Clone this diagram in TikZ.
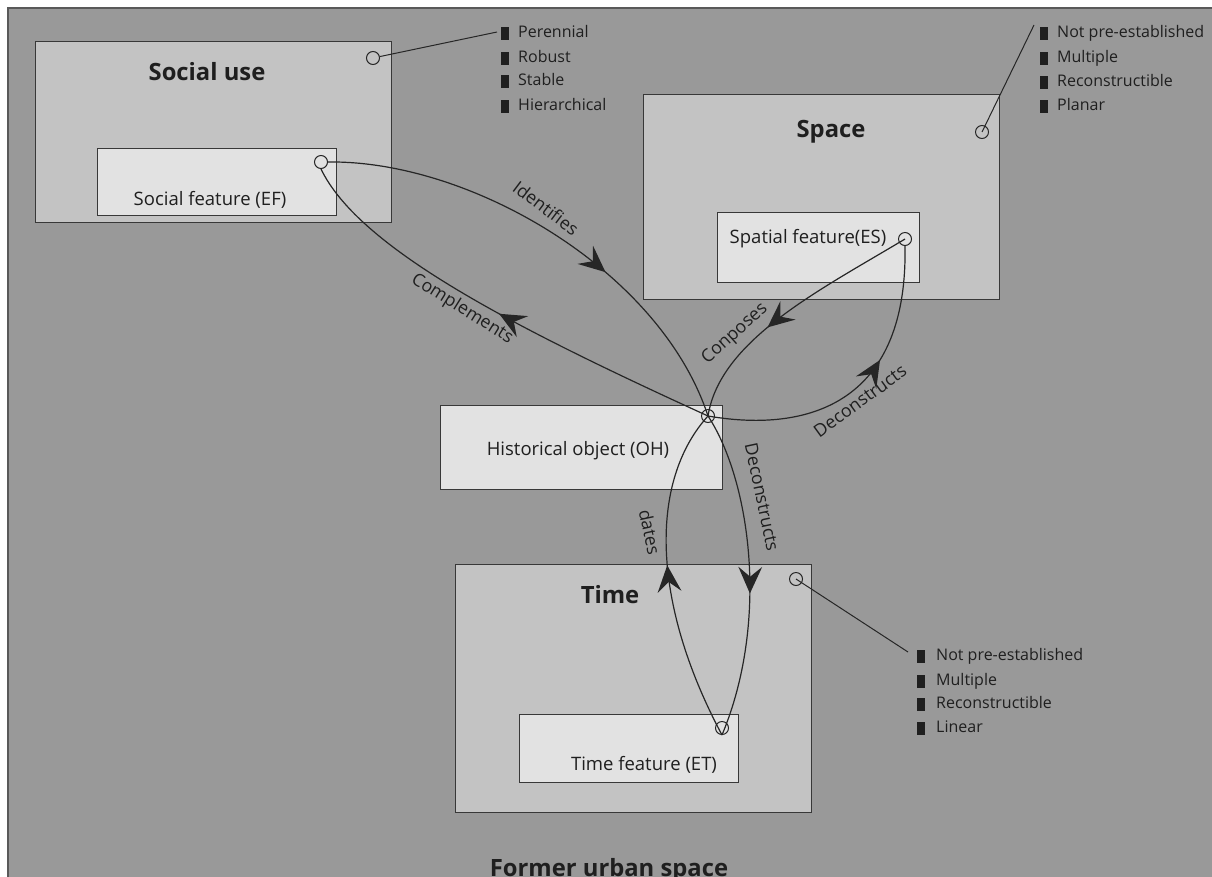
\documentclass[tikz,border=0pt]{standalone}
\usepackage{fontspec}
\setmainfont{Open Sans}
\usetikzlibrary{decorations.markings,arrows.meta}
\definecolor{bgc}{gray}{0.6}
\definecolor{bigc}{gray}{0.765}
\definecolor{smc}{gray}{0.885}
\definecolor{edgec}{gray}{0.22}
\definecolor{txtc}{gray}{0.12}
\tikzset{headtip/.tip={Stealth[length=19pt,width=17pt,inset=7pt]}}
\begin{document}
\begin{tikzpicture}[x=1pt,y=-1pt,
  bigbox/.style={draw=edgec, fill=bigc, line width=1.3pt, inner sep=0pt, anchor=north west},
  smallbox/.style={draw=edgec, fill=smc, line width=1.2pt, inner sep=0pt, anchor=north west},
  titletxt/.style={font=\fontsize{23.8}{28}\selectfont\bfseries, text=txtc, anchor=base, inner sep=0pt},
  feat/.style={font=\fontsize{18.5}{22}\selectfont, text=txtc, anchor=base, inner sep=0pt},
  item/.style={font=\fontsize{16}{19}\selectfont, text=txtc, anchor=west, inner sep=0pt, text height=12pt, text depth=3.5pt},
  sq/.style={fill=black!88, minimum width=8pt, minimum height=13pt, inner sep=0pt},
  port/.style={circle, draw=black!85, line width=1pt, minimum size=13pt, inner sep=0pt},
  link/.style={draw=black!85, line width=1.2pt},
  lbl/.style={font=\fontsize{17.8}{21}\selectfont, text=txtc, inner sep=0pt},
  midarrow/.style={postaction={decorate}, decoration={markings, mark=at position #1 with {\arrow[scale=1.4]{headtip}}}}
]
\useasboundingbox (0,0) rectangle (1212,876);
\fill[white] (0,0) rectangle (1212,876);
\draw[fill=bgc, draw=gray!70!black, line width=1.2pt] (8,8) rectangle (1240,900);

% big boxes
\node[bigbox, minimum width=356pt, minimum height=181pt] (social) at (35,41) {};
\node[bigbox, minimum width=356pt, minimum height=205pt] (space) at (643,94) {};
\node[bigbox, minimum width=356pt, minimum height=248pt] (time) at (455,564) {};

% inner boxes
\node[smallbox, minimum width=239pt, minimum height=67pt] (efbox) at (97,148) {};
\node[smallbox, minimum width=202pt, minimum height=70pt] (esbox) at (717,212) {};
\node[smallbox, minimum width=282pt, minimum height=84pt] (ohbox) at (440,405) {};
\node[smallbox, minimum width=219pt, minimum height=68pt] (etbox) at (519,714) {};

% titles
\node[titletxt] (tsocial) at (207,80) {Social use};
\node[titletxt] (tspace) at (831,137) {Space};
\node[titletxt] (ttime) at (610,603) {Time};
\node[titletxt] (tformer) at (609,876) {Former urban space};

% feature texts
\node[feat] (tef) at (210,205) {Social feature (EF)};
\node[feat] (tes) at (808,243) {Spatial feature(ES)};
\node[feat] (toh) at (578,455) {Historical object (OH)};
\node[feat] (tet) at (644,770) {Time feature (ET)};

% ports
\node[port] (sport) at (373,58) {};
\node[port] (spport) at (982,132) {};
\node[port] (tport) at (796,579) {};
\node[port] (ef) at (321,162) {};
\node[port] (es) at (905,239) {};
\node[port] (oh) at (708,416) {};
\node[port] (et) at (722,728) {};

% legend: social
\coordinate (sl) at (497,32);
\draw[link, line width=1pt] (sport) -- (sl);
\node[sq] (s1) at (505,33) {}; \node[item] (s1t) at (518,33) {Perennial};
\node[sq] (s2) at (505,58) {}; \node[item] (s2t) at (518,58) {Robust};
\node[sq] (s3) at (505,81) {}; \node[item] (s3t) at (518,81) {Stable};
\node[sq] (s4) at (505,106) {}; \node[item] (s4t) at (518,106) {Hierarchical};

% legend: space
\coordinate (pl) at (1034,25);
\draw[link, line width=1pt] (spport.center) -- (pl);
\node[sq] (p1) at (1044,33) {}; \node[item] (p1t) at (1057,33) {Not pre-established};
\node[sq] (p2) at (1044,58) {}; \node[item] (p2t) at (1057,58) {Multiple};
\node[sq] (p3) at (1044,82) {}; \node[item] (p3t) at (1057,82) {Reconstructible};
\node[sq] (p4) at (1044,106) {}; \node[item] (p4t) at (1057,106) {Planar};

% legend: time
\coordinate (ml) at (908,652);
\draw[link, line width=1pt] (tport.center) -- (ml);
\node[sq] (m1) at (921,656) {}; \node[item] (m1t) at (936,656) {Not pre-established};
\node[sq] (m2) at (921,681) {}; \node[item] (m2t) at (936,681) {Multiple};
\node[sq] (m3) at (921,704) {}; \node[item] (m3t) at (936,704) {Reconstructible};
\node[sq] (m4) at (921,728) {}; \node[item] (m4t) at (936,728) {Linear};

% connectors
\draw[link, midarrow=0.63] (ef.east) .. controls (470,160) and (660,270) .. (oh.center);
\draw[link, midarrow=0.5] (oh.center) .. controls (520,330) and (360,250) .. (ef.south);
\draw[link, midarrow=0.6] (es.center) .. controls (820,290) and (720,340) .. (oh.center);
\draw[link, midarrow=0.62] (oh.center) .. controls (800,432) and (908,410) .. (es.south);
\draw[link, midarrow=0.56] (oh.center) .. controls (750,480) and (770,620) .. (et.south);
\draw[link, midarrow=0.53] (et.south) .. controls (650,600) and (650,480) .. (oh.center);

% connector labels
\node[lbl, rotate=-37] (lid) at (546,208) {Identifies};
\node[lbl, rotate=-32] (lco) at (462,309) {Complements};
\node[lbl, rotate=42] (lcp) at (735,334) {Conposes};
\node[lbl, rotate=36] (ldr) at (860,401) {Deconstructs};
\node[lbl, rotate=-78] (ldd) at (762,497) {Deconstructs};
\node[lbl, rotate=-78] (lda) at (650,532) {dates};
\end{tikzpicture}
\end{document}
